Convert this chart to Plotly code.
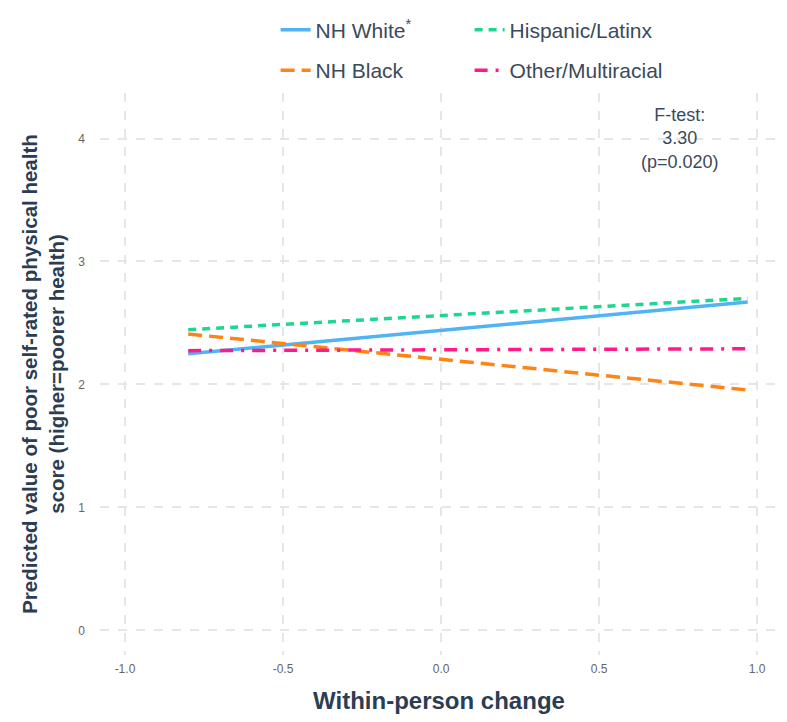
import plotly.graph_objects as go

# Predicted scores at the two ends of the within-person change range
x_ends = [-0.80, 0.97]
groups = ["NH White<sup>*</sup>", "Hispanic/Latinx", "NH Black", "Other/Multiracial"]
nh_white = [2.25, 2.67]
hispanic = [2.445, 2.70]
nh_black = [2.41, 1.955]
other_multi = [2.275, 2.29]

x_ticks = [-1.0, -0.5, 0.0, 0.5, 1.0]
x_tick_text = ["-1.0", "-0.5", "0.0", "0.5", "1.0"]
y_ticks = [0, 1, 2, 3, 4]
f_test_text = "F-test:<br>3.30<br>(p=0.020)"

FONT = "Liberation Sans, Arial, Helvetica, sans-serif"
TEXT = "#3B4A5C"
TITLE = "#2B3D52"

series = [
    (groups[0], nh_white, "#4FB3F6", "solid", "legend"),
    (groups[1], hispanic, "#1FD690", "8px,6px", "legend"),
    (groups[2], nh_black, "#FF8414", "14px,7px", "legend2"),
    (groups[3], other_multi, "#FF1A8A", "13px,8px,3px,8px", "legend2"),
]

fig = go.Figure()
for name, ys, color, dash, leg in series:
    fig.add_trace(go.Scatter(
        x=x_ends, y=ys, mode="lines", name=name, legend=leg,
        line=dict(color=color, width=3.5, dash=dash),
    ))

fig.add_annotation(
    x=0.756, y=4.0, xref="x", yref="y", text=f_test_text, showarrow=False,
    font=dict(family=FONT, size=18, color=TEXT), align="center",
    xanchor="center", yanchor="middle",
)

legend_common = dict(
    orientation="h", xanchor="left", yanchor="middle",
    entrywidth=149, entrywidthmode="pixels",
    font=dict(family=FONT, size=21, color=TEXT),
    bgcolor="rgba(0,0,0,0)", traceorder="normal", itemwidth=30,
)

fig.update_layout(
    width=787, height=722,
    margin=dict(l=100, r=9, t=90, b=67),
    paper_bgcolor="white", plot_bgcolor="white",
    font=dict(family=FONT, color=TEXT),
    showlegend=True,
    legend=dict(x=0.259, y=1.112, **legend_common),
    legend2=dict(x=0.259, y=1.04, **legend_common),
    xaxis=dict(
        range=[-1.079, 1.066], tickvals=x_ticks, ticktext=x_tick_text,
        showgrid=True, gridcolor="#E6E6E6", gridwidth=1.5, griddash="dash",
        zeroline=False, showline=False, ticks="",
        tickfont=dict(family=FONT, size=12, color="#666666"),
        ticklabelstandoff=5,
        title=dict(text="<b>Within-person change</b>",
                   font=dict(family=FONT, size=24, color=TITLE), standoff=17),
    ),
    yaxis=dict(
        range=[-0.2, 4.37], tickvals=y_ticks,
        showgrid=True, gridcolor="#E6E6E6", gridwidth=1.5, griddash="dash",
        zeroline=False, showline=False, ticks="",
        tickfont=dict(family=FONT, size=12, color="#666666"),
        ticklabelstandoff=14,
        title=dict(text="<b>Predicted value of poor self-rated physical health<br>score (higher=poorer health)</b>",
                   font=dict(family=FONT, size=20.5, color=TITLE), standoff=8),
    ),
)

fig.write_html("out.html")
